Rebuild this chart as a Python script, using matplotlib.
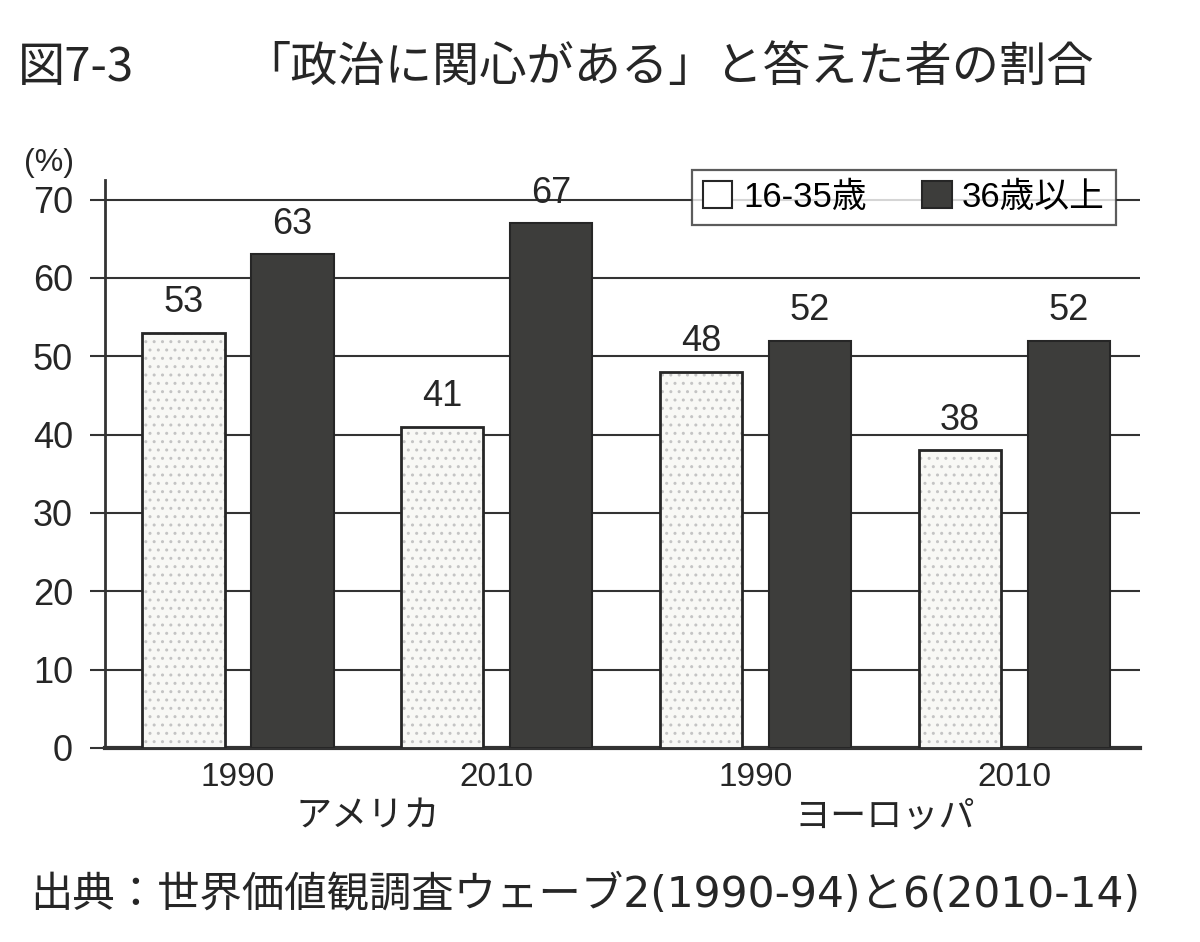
#!/usr/bin/env python3

import numpy as np
import matplotlib.pyplot as plt
from matplotlib.patches import Patch

plt.rcParams['font.family'] = ['Liberation Sans', 'Noto Sans CJK JP', 'DejaVu Sans']

title_fig = '図7-3'
title_text = '「政治に関心がある」と答えた者の割合'
years = ['1990', '2010', '1990', '2010']
regions = ['アメリカ', 'ヨーロッパ']
series_names = ['16-35歳', '36歳以上']
young = [53, 41, 48, 38]
older = [63, 67, 52, 52]
source = '出典：世界価値観調査ウェーブ2(1990-94)と6(2010-14)'


def main():
    fig = plt.figure(figsize=(12, 9.42), dpi=100)
    ax = fig.add_axes([0.0875, 0.206, 0.8625, 0.603])

    x = np.arange(len(years))
    w = 0.318
    off = 0.211
    ink = '#262626'

    # speckled light bars: texture layer, then outline
    ax.bar(x - off, young, w, facecolor='#f8f8f5', edgecolor='#c4c4c4',
           linewidth=0, hatch='..', zorder=3)
    ax.bar(x - off, young, w, facecolor='none', edgecolor=ink,
           linewidth=2, zorder=4)
    ax.bar(x + off, older, w, facecolor='#3d3d3b', edgecolor=ink,
           linewidth=1.5, zorder=3)

    for xi, v in zip(x - off, young):
        ax.annotate(str(v), (xi, v), xytext=(0, 9), textcoords='offset points',
                    ha='center', va='bottom', fontsize=26, color=ink)
    for xi, v in zip(x + off, older):
        ax.annotate(str(v), (xi, v), xytext=(0, 9), textcoords='offset points',
                    ha='center', va='bottom', fontsize=26, color=ink)

    ax.set_xlim(-0.514, 3.486)
    ax.set_ylim(0, 72.5)
    ax.set_yticks(range(0, 71, 10))
    ax.set_yticklabels([str(t) for t in range(0, 71, 10)], fontsize=26, color=ink)
    ax.tick_params(axis='y', direction='out', length=11, width=1.5, color='#333333', pad=12)
    ax.grid(axis='y', color='#333333', linewidth=1.5, zorder=1)
    ax.set_axisbelow(True)

    ax.set_xticks(x)
    ax.set_xticklabels(years, fontsize=24, color=ink)
    ax.tick_params(axis='x', length=0, pad=10)

    for s in ['top', 'right']:
        ax.spines[s].set_visible(False)
    ax.spines['left'].set_linewidth(2)
    ax.spines['left'].set_color('#333333')
    ax.spines['bottom'].set_linewidth(3)
    ax.spines['bottom'].set_color('#333333')

    # region labels under the year pairs
    for i, r in enumerate(regions):
        ax.text(0.5 + 2 * i, -0.09, r, transform=ax.get_xaxis_transform(),
                ha='center', va='top', fontsize=26, color=ink)

    ax.text(-0.078, 1.03, '(%)', transform=ax.transAxes, ha='left', va='center',
            fontsize=23, color=ink)

    handles = [Patch(facecolor='white', edgecolor=ink, linewidth=1.5, label=series_names[0]),
               Patch(facecolor='#3d3d3b', edgecolor=ink, linewidth=1.5, label=series_names[1])]
    leg = ax.legend(handles=handles, loc='upper right', bbox_to_anchor=(0.93, 0.82),
                    bbox_transform=fig.transFigure, ncol=2, fontsize=25,
                    frameon=True, fancybox=False, edgecolor='#333333',
                    handlelength=0.85, handleheight=0.85, handletextpad=0.3,
                    columnspacing=1.6, borderpad=0.32, borderaxespad=0)
    leg.get_frame().set_linewidth(1.6)
    leg.set_zorder(5)

    fig.text(0.015, 0.928, title_fig, fontsize=34, ha='left', va='center', color=ink,
             family=['Noto Sans CJK JP', 'DejaVu Sans'])
    fig.text(0.203, 0.928, title_text, fontsize=34, ha='left', va='center', color=ink,
             family=['Noto Sans CJK JP', 'DejaVu Sans'])
    fig.text(0.025, 0.05, source, fontsize=30.5, ha='left', va='center', color=ink,
             family=['DejaVu Sans', 'Noto Sans CJK JP'])

    plt.savefig('out.png')


if __name__ == '__main__':
    main()
